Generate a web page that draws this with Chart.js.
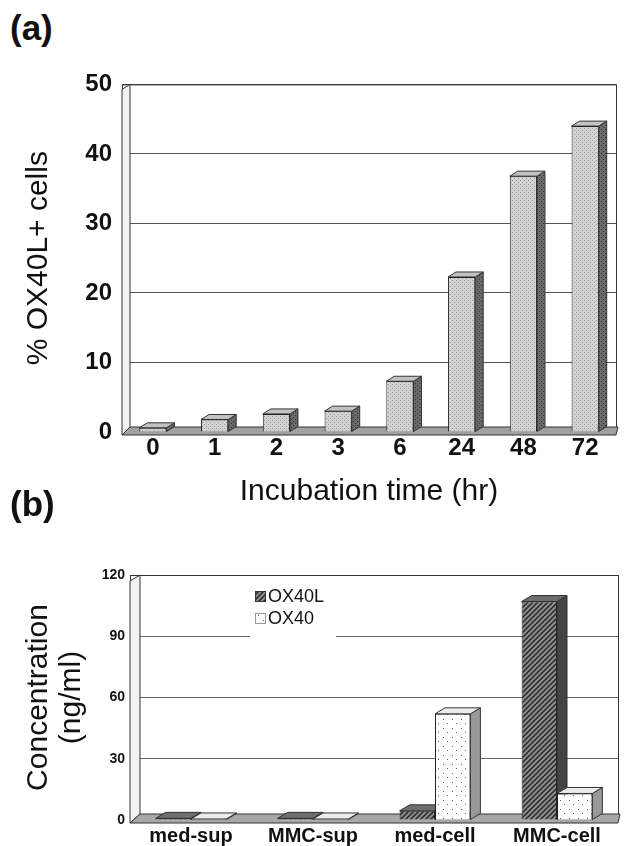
<!DOCTYPE html>
<html>
<head>
<meta charset="utf-8">
<script src="https://cdn.jsdelivr.net/npm/chart.js@4.4.1/dist/chart.umd.min.js"></script>
<style>
  html, body { margin: 0; padding: 0; background: #fff; overflow: hidden; }
  #wrap { position: relative; width: 629px; height: 846px; }
  .tag { position: absolute; left: 10px; font: bold 35px 'Liberation Sans', Arial, sans-serif; color: #111; line-height: 40px; }
  canvas { position: absolute; left: 0; }
</style>
</head>
<body>
<div id="wrap">
  <div class="tag" style="top:8px">(a)</div>
  <canvas id="chartA" width="629" height="470" style="top:60px"></canvas>
  <div class="tag" style="top:484px">(b)</div>
  <canvas id="chartB" width="629" height="291" style="top:555px"></canvas>
</div>
<script>
// panel (a)
const hours = ['0', '1', '2', '3', '6', '24', '48', '72'];
const pctOX40L = [0.6, 1.8, 2.6, 3.0, 7.3, 22.3, 36.8, 44.0];

// panel (b)
const samples = ['med-sup', 'MMC-sup', 'med-cell', 'MMC-cell'];
const concOX40L = [0.8, 0.8, 4.5, 107];
const concOX40 = [0.5, 0.5, 52, 13];

const FONT = "'Liberation Sans', Arial, Helvetica, sans-serif";

// small fill patterns to imitate the printed textures
function makePattern(size, bg, draw) {
  const c = document.createElement('canvas');
  c.width = size; c.height = size;
  const g = c.getContext('2d');
  g.fillStyle = bg;
  g.fillRect(0, 0, size, size);
  draw(g);
  return document.createElement('canvas').getContext('2d').createPattern(c, 'repeat');
}

const greyStipple = makePattern(4, '#d2d2d2', g => {
  g.fillStyle = '#9c9c9c';
  g.fillRect(0, 0, 1, 1);
  g.fillRect(2, 2, 1, 1);
});
const darkStipple = makePattern(4, '#6a6a6a', g => {
  g.fillStyle = '#333';
  g.fillRect(1, 1, 1, 1);
  g.fillRect(3, 3, 1, 1);
});
const hatch = makePattern(5, '#8e8e8e', g => {
  g.strokeStyle = '#262626';
  g.lineWidth = 1.5;
  g.beginPath();
  g.moveTo(-1, 6); g.lineTo(6, -1);
  g.moveTo(-1, 1); g.lineTo(1, -1);
  g.moveTo(4, 6); g.lineTo(6, 4);
  g.stroke();
});
const dots = makePattern(9, '#ffffff', g => {
  g.fillStyle = '#666';
  g.fillRect(2, 2, 1, 1);
  g.fillRect(6, 6, 1, 1);
});

// draws the side and top faces of each bar, plus the floor and left wall
const depthPlugin = {
  id: 'depth',
  beforeDatasetsDraw(chart, args, opts) {
    const { ctx, chartArea } = chart;
    const { left, right, top, bottom } = chartArea;
    const dx = opts.dx, dy = opts.dy;
    ctx.save();
    ctx.strokeStyle = '#333';
    ctx.lineWidth = 1;
    // frame
    ctx.strokeRect(left + 0.5, top + 0.5, right - left, bottom - top);
    // left wall
    ctx.fillStyle = '#f2f2f2';
    ctx.beginPath();
    ctx.moveTo(left, bottom + 3);
    ctx.lineTo(left, top + dy);
    ctx.lineTo(left + dx, top);
    ctx.lineTo(left + dx, bottom - dy);
    ctx.closePath();
    ctx.fill(); ctx.stroke();
    // floor
    ctx.fillStyle = opts.floor;
    ctx.beginPath();
    ctx.moveTo(left, bottom + 3);
    ctx.lineTo(right, bottom + 3);
    ctx.lineTo(right + 2, bottom - dy);
    ctx.lineTo(left + dx, bottom - dy);
    ctx.closePath();
    ctx.fill(); ctx.stroke();

    chart.data.datasets.forEach((ds, i) => {
      const meta = chart.getDatasetMeta(i);
      meta.data.forEach(bar => {
        const { x, y, base, width } = bar.getProps(['x', 'y', 'base', 'width'], true);
        const l = x - width / 2, r = x + width / 2;
        ctx.fillStyle = opts.side[i];
        ctx.beginPath();
        ctx.moveTo(r, y); ctx.lineTo(r + dx, y - dy);
        ctx.lineTo(r + dx, base - dy); ctx.lineTo(r, base);
        ctx.closePath();
        ctx.fill(); ctx.stroke();
        ctx.fillStyle = opts.top[i];
        ctx.beginPath();
        ctx.moveTo(l, y); ctx.lineTo(l + dx, y - dy);
        ctx.lineTo(r + dx, y - dy); ctx.lineTo(r, y);
        ctx.closePath();
        ctx.fill(); ctx.stroke();
      });
    });
    ctx.restore();
  }
};

// legend placed inside the plot like the original
const insetLegend = {
  id: 'insetLegend',
  afterDraw(chart, args, opts) {
    if (!opts.display) return;
    const { ctx, chartArea } = chart;
    const x0 = chartArea.left + opts.x, y0 = chartArea.top + opts.y;
    ctx.save();
    ctx.fillStyle = '#fff';
    ctx.fillRect(x0 - 5, y0 - 12, opts.w, opts.rowH * chart.data.datasets.length + 10);
    ctx.font = '18px ' + FONT;
    ctx.textBaseline = 'middle';
    chart.data.datasets.forEach((ds, i) => {
      const cy = y0 + i * opts.rowH;
      ctx.fillStyle = ds.backgroundColor;
      ctx.fillRect(x0, cy - 5, 10, 10);
      ctx.strokeStyle = '#333';
      ctx.setLineDash(i === 1 ? [1, 1] : []);
      ctx.strokeRect(x0 + 0.5, cy - 4.5, 10, 10);
      ctx.setLineDash([]);
      ctx.fillStyle = '#111';
      ctx.fillText(ds.label, x0 + 13, cy + 1);
    });
    ctx.restore();
  }
};

new Chart(document.getElementById('chartA'), {
  type: 'bar',
  data: {
    labels: hours,
    datasets: [{
      label: '% OX40L+ cells',
      data: pctOX40L,
      backgroundColor: greyStipple,
      borderColor: '#222',
      borderWidth: 1,
      barPercentage: 0.44,
      categoryPercentage: 1
    }]
  },
  options: {
    responsive: false,
    animation: false,
    devicePixelRatio: 1,
    layout: { padding: { top: 24, right: 13, left: 0, bottom: 0 } },
    plugins: {
      legend: { display: false },
      tooltip: { enabled: false },
      depth: { dx: 8, dy: 5, side: [darkStipple], top: ['#c2c2c2'], floor: '#a0a0a0' }
    },
    scales: {
      x: {
        grid: { display: false, drawTicks: false },
        border: { display: false },
        ticks: { font: { family: FONT, size: 24, weight: 'bold' }, color: '#111', padding: 2, maxRotation: 0 },
        title: { display: true, text: 'Incubation time (hr)', color: '#111', font: { family: FONT, size: 30 }, padding: { top: 0, bottom: 20 } },
        afterFit(s) { s.height = 98; }
      },
      y: {
        min: 0,
        max: 50,
        ticks: { stepSize: 10, font: { family: FONT, size: 24, weight: 'bold' }, color: '#111', padding: 10 },
        grid: { color: '#555', drawTicks: false },
        border: { display: false },
        title: { display: true, text: '% OX40L+ cells', color: '#111', font: { family: FONT, size: 30 }, padding: { top: 21, bottom: 0 } },
        afterFit(s) { s.width = 122; }
      }
    }
  },
  plugins: [depthPlugin]
});

new Chart(document.getElementById('chartB'), {
  type: 'bar',
  data: {
    labels: samples,
    datasets: [
      { label: 'OX40L', data: concOX40L, backgroundColor: hatch, borderColor: '#222', borderWidth: 1 },
      { label: 'OX40', data: concOX40, backgroundColor: dots, borderColor: '#222', borderWidth: 1 }
    ]
  },
  options: {
    responsive: false,
    animation: false,
    devicePixelRatio: 1,
    datasets: { bar: { barPercentage: 1, categoryPercentage: 0.58 } },
    layout: { padding: { top: 20, right: 11, left: 0, bottom: 0 } },
    plugins: {
      legend: { display: false },
      tooltip: { enabled: false },
      depth: { dx: 10, dy: 6, side: ['#444', '#999'], top: ['#6e6e6e', '#ececec'], floor: '#a8a8a8' },
      insetLegend: { display: true, x: 125, y: 21, rowH: 22, w: 86 }
    },
    scales: {
      x: {
        grid: { display: false, drawTicks: false },
        border: { display: false },
        ticks: { font: { family: FONT, size: 20, weight: 'bold' }, color: '#111', padding: 4, maxRotation: 0 },
        afterFit(s) { s.height = 26; }
      },
      y: {
        min: 0,
        max: 120,
        ticks: { stepSize: 30, font: { family: FONT, size: 14, weight: 'bold' }, color: '#111', padding: 5 },
        grid: { color: '#666', drawTicks: false },
        border: { display: false },
        title: {
          display: true,
          text: ['Concentration', '(ng/ml)'],
          color: '#111',
          font: { family: FONT, size: 30, lineHeight: 1.1 },
          padding: { top: 22, bottom: 0 }
        },
        afterFit(s) { s.width = 130; }
      }
    }
  },
  plugins: [depthPlugin, insetLegend]
});
</script>
</body>
</html>
